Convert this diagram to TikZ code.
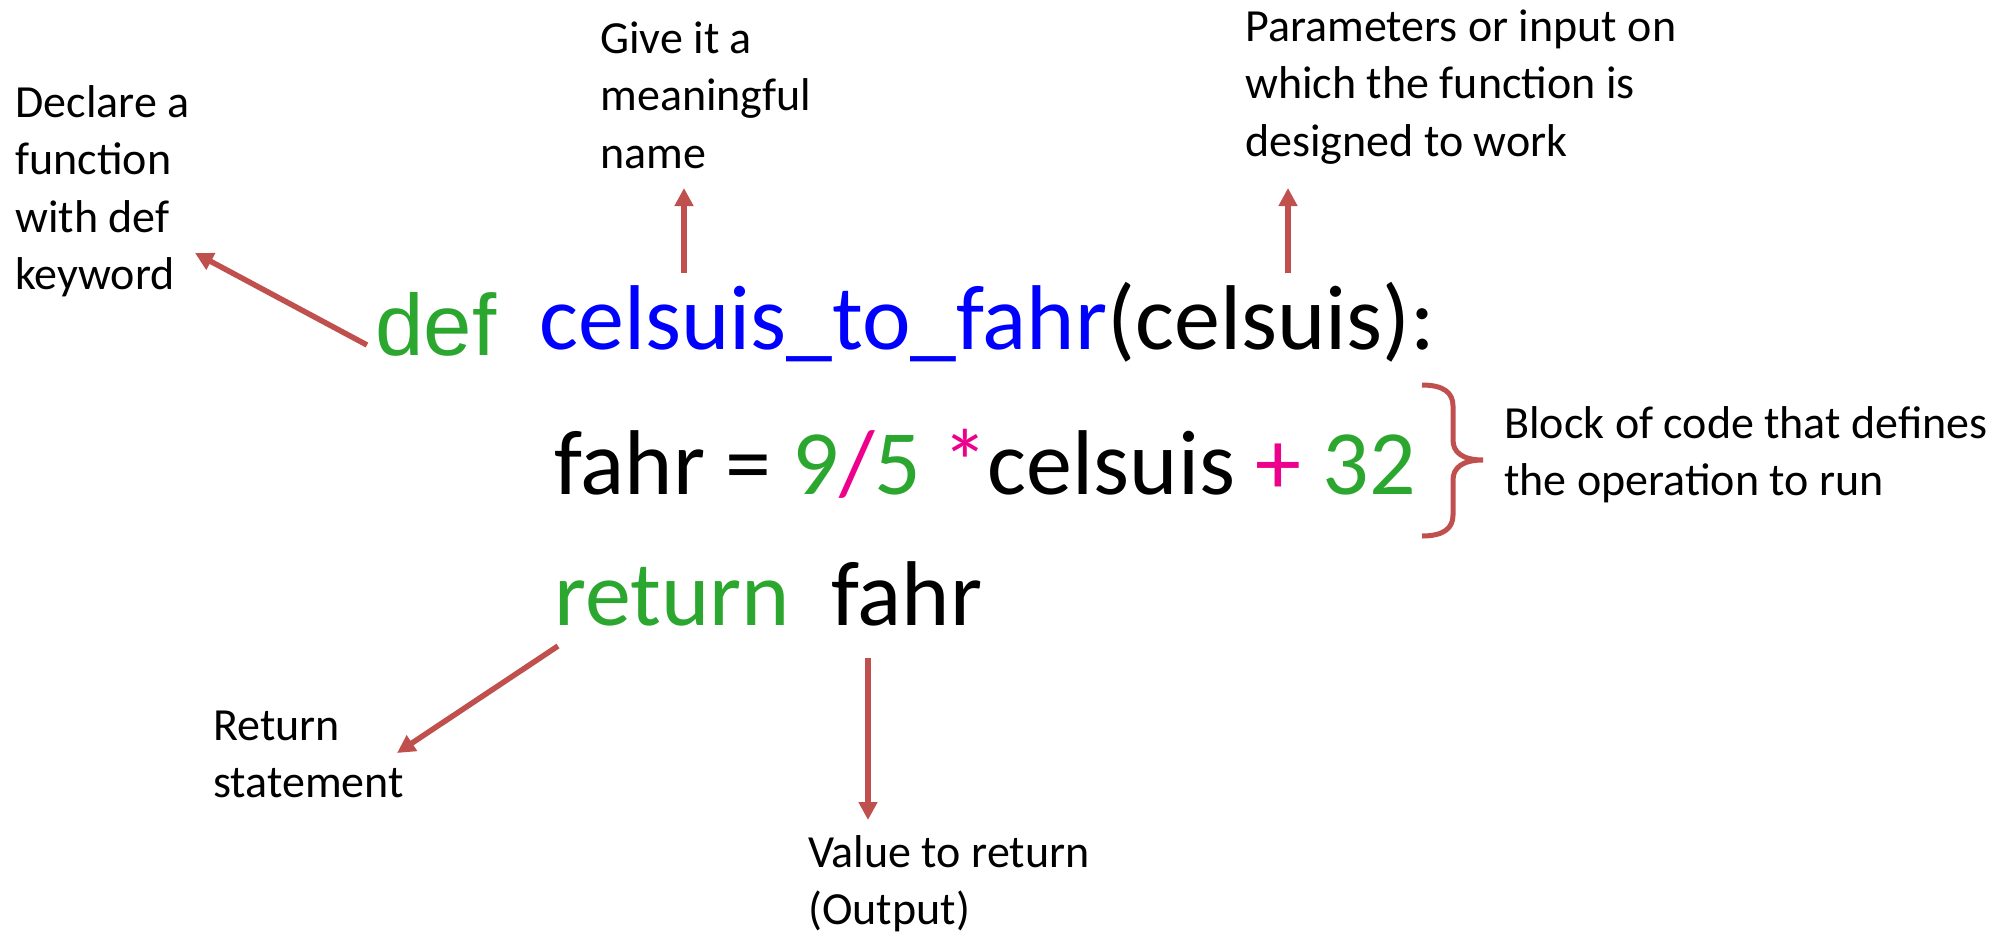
\documentclass[tikz,border=0pt]{standalone}
\usepackage{fontspec}
\setmainfont{Carlito}
\newfontfamily\arialf{Liberation Sans}
\usetikzlibrary{arrows.meta}
\definecolor{arrowred}{RGB}{192,80,77}
\definecolor{codegreen}{RGB}{43,166,46}
\definecolor{codepink}{RGB}{236,0,140}
\definecolor{codeblue}{RGB}{0,0,255}
\newcommand\lblock[1]{\begin{tabular}[t]{@{}l@{}}#1\end{tabular}}
\begin{document}
\begin{tikzpicture}[x=0.5pt,y=-0.5pt,
  note/.style={anchor=base west, inner sep=0pt, font=\fontsize{23}{28.75}\selectfont},
  code/.style={anchor=base west, inner sep=0pt, font=\fontsize{46}{55}\selectfont},
  pointer/.style={draw=arrowred, line width=2.75pt, -{Triangle[width=9pt,length=9pt]}},
  bracestroke/.style={draw=arrowred, line width=2.5pt}]
\useasboundingbox (0,0) rectangle (2006,933);

% annotations
\node[note] (decl) at (15,117) {\lblock{Declare a\\function\\with def\\keyword}};
\node[note] (give) at (600,53) {\lblock{Give it a\\meaningful\\name}};
\node[note] (param) at (1245,41) {\lblock{Parameters or input on\\which the function is\\designed to work}};
\node[note] (block) at (1504,438) {\lblock{Block of code that defines\\the operation to run}};
\node[note] (retlbl) at (213,740) {\lblock{Return\\statement}};
\node[note] (value) at (808,867) {\lblock{Value to return\\(Output)}};

% code
\node[anchor=base west, inner sep=0pt, font=\arialf\fontsize{43.5}{52}\selectfont, text=codegreen] (def) at (375,355) {def};
\node[code] (line1) at (539,349) {\textcolor{codeblue}{celsuis\_to\_fahr}(celsuis):};
\node[code] (line2) at (554,494) {fahr = \textcolor{codegreen}{9}\textcolor{codepink}{/}\textcolor{codegreen}{5} \textcolor{codepink}{*}celsuis \textcolor{codepink}{+} \textcolor{codegreen}{32}};
\node[code, text=codegreen] (ret) at (554,625) {return};
\node[code] (fahrout) at (831,625) {fahr};

% arrow end points
\coordinate (defTail) at (367,345);
\coordinate (defTip) at (195,253);
\coordinate (nameTail) at (684,273);
\coordinate (nameTip) at (684,188);
\coordinate (parTail) at (1288,273);
\coordinate (parTip) at (1288,188);
\coordinate (retTail) at (558,646);
\coordinate (retTip) at (397,753);
\coordinate (outTail) at (868,658);
\coordinate (outTip) at (868,820);

\draw[pointer] (defTail) -- (defTip);
\draw[pointer] (nameTail) -- (nameTip);
\draw[pointer] (parTail) -- (parTip);
\draw[pointer] (retTail) -- (retTip);
\draw[pointer] (outTail) -- (outTip);

% brace
\draw[bracestroke] (1422,385) .. controls (1444,385) and (1453,393) .. (1453,406)
  -- (1453,440) .. controls (1453,452) and (1462,460) .. (1483,460)
  .. controls (1462,460) and (1453,468) .. (1453,480)
  -- (1453,515) .. controls (1453,528) and (1444,536) .. (1422,536);
\end{tikzpicture}
\end{document}
